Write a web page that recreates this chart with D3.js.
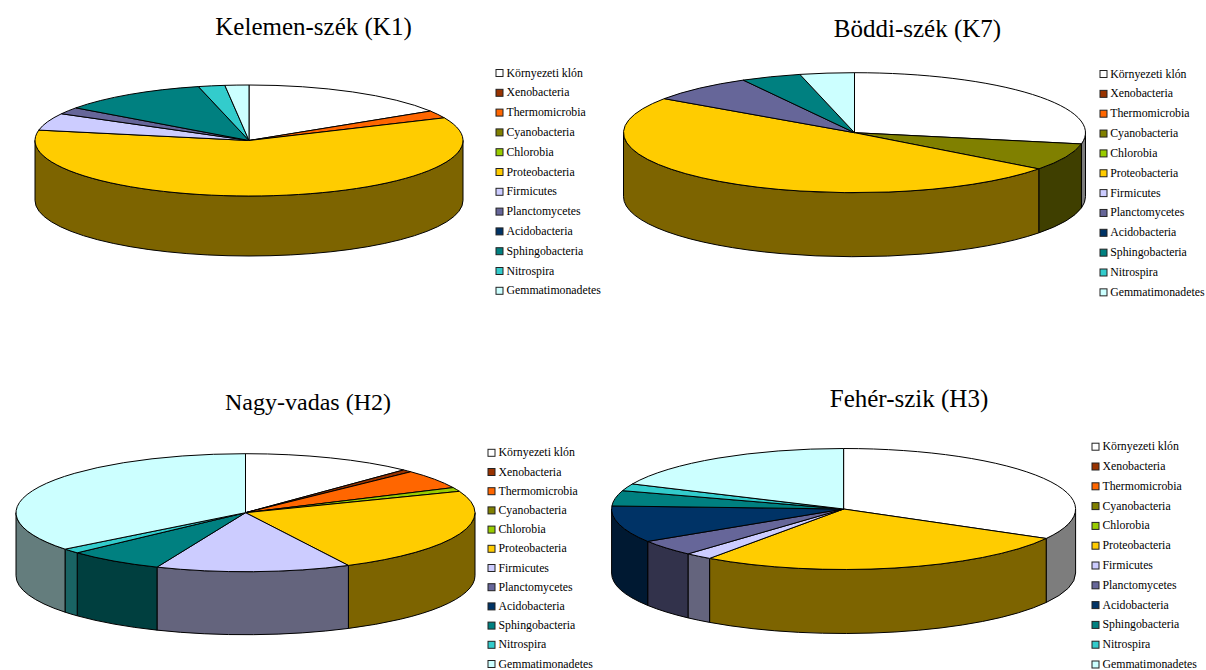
<!DOCTYPE html>
<html>
<head>
<meta charset="utf-8">
<script src="https://cdn.jsdelivr.net/npm/d3@7"></script>
<style>
html, body { margin: 0; padding: 0; background: #fff; }
svg { display: block; }
text { font-family: "Liberation Serif", serif; fill: #000; }
.slice, .wall { stroke: #000; stroke-width: 1px; stroke-linejoin: round; }
.slice { vector-effect: non-scaling-stroke; }
</style>
</head>
<body>
<svg id="chart" width="1206" height="670"></svg>
<script>
// kategoriak
var categories = ["Környezeti klón", "Xenobacteria", "Thermomicrobia", "Cyanobacteria", "Chlorobia",
    "Proteobacteria", "Firmicutes", "Planctomycetes", "Acidobacteria", "Sphingobacteria", "Nitrospira", "Gemmatimonadetes"];
var colors = ["#ffffff", "#993300", "#ff6600", "#808000", "#99cc00", "#ffcc00",
    "#ccccff", "#666699", "#003366", "#008080", "#33cccc", "#ccffff"];

// szazalekok, a kepről leolvasva
var k1Values = [16.1, 0, 2.2, 0, 0, 59.7, 5, 2, 0, 11.2, 2, 1.8];
var k7Values = [28, 0, 0, 7.3, 0, 49.3, 0, 7.4, 0, 4.2, 0, 3.8];
var h2Values = [12.1, 0.7, 5.2, 0, 1.1, 23.5, 13.7, 0, 0, 6.8, 1.3, 35.6];
var h3Values = [33.1, 0, 0, 0, 0, 26.7, 1.9, 4.3, 9.8, 4.1, 1.9, 18.2];

var titles = ["Kelemen-szék (K1)", "Böddi-szék (K7)", "Nagy-vadas (H2)", "Fehér-szik (H3)"];

// elhelyezes
var layouts = [
    { values: k1Values, title: titles[0], tx: 313.5, ty: 35, ts: 25, cx: 249, cy: 140.5, rx: 214, ry: 55.5, depth: 60, lx: 495.5, ly: 73, lp: 19.8, lt: 11 },
    { values: k7Values, title: titles[1], tx: 917.5, ty: 37, ts: 25, cx: 854.5, cy: 132.7, rx: 231, ry: 60, depth: 64, lx: 1099.5, ly: 74, lp: 19.85, lt: 10.7 },
    { values: h2Values, title: titles[2], tx: 308, ty: 410, ts: 24, cx: 245.5, cy: 512.7, rx: 229.5, ry: 59, depth: 63, lx: 487.5, ly: 452.8, lp: 19.2, lt: 11 },
    { values: h3Values, title: titles[3], tx: 909, ty: 407, ts: 25, cx: 843.6, cy: 509, rx: 232, ry: 60.5, depth: 64, lx: 1091.5, ly: 446.7, lp: 19.8, lt: 11 }
];

var svg = d3.select("#chart");
var pie = d3.pie().sort(null);
var color = d3.scaleOrdinal().domain(categories).range(colors);

function drawPie(opt) {
    var g = svg.append("g");
    g.append("text")
        .attr("x", opt.tx).attr("y", opt.ty)
        .attr("text-anchor", "middle")
        .style("font-size", opt.ts + "px")
        .text(opt.title);

    var arcs = pie(opt.values).filter(function (d) { return d.data > 0; });
    var fnX = function (a) { return opt.cx + opt.rx * Math.sin(a); };
    var fnY = function (a) { return opt.cy - opt.ry * Math.cos(a); };

    /** oldalfal: csak az elulso felkor latszik */
    arcs.forEach(function (d) {
        var a0 = Math.max(d.startAngle, Math.PI / 2);
        var a1 = Math.min(d.endAngle, Math.PI * 1.5);
        if (a1 <= a0) return;
        var large = (a1 - a0) > Math.PI ? 1 : 0;
        var path = "M" + fnX(a0) + "," + fnY(a0)
            + "A" + opt.rx + "," + opt.ry + " 0 " + large + " 1 " + fnX(a1) + "," + fnY(a1)
            + "L" + fnX(a1) + "," + (fnY(a1) + opt.depth)
            + "A" + opt.rx + "," + opt.ry + " 0 " + large + " 0 " + fnX(a0) + "," + (fnY(a0) + opt.depth)
            + "Z";
        g.append("path")
            .attr("class", "wall")
            .attr("d", path)
            .attr("fill", d3.rgb(color(categories[d.index])).darker(2).formatHex());
    });

    /** teteje */
    var fnArc = d3.arc().innerRadius(0).outerRadius(opt.rx);
    g.append("g")
        .attr("transform", "translate(" + opt.cx + "," + opt.cy + ") scale(1," + (opt.ry / opt.rx) + ")")
        .selectAll("path").data(arcs).enter().append("path")
        .attr("class", "slice")
        .attr("d", fnArc)
        .attr("fill", function (d) { return color(categories[d.index]); });

    /** jelmagyarazat */
    var legend = g.append("g").selectAll("g").data(categories).enter().append("g")
        .attr("transform", function (d, i) { return "translate(" + opt.lx + "," + (opt.ly + i * opt.lp) + ")"; });
    legend.append("rect")
        .attr("x", 0.5).attr("y", -3.5).attr("width", 7).attr("height", 7)
        .attr("fill", function (d) { return color(d); })
        .attr("stroke", "#222").attr("stroke-width", 1);
    legend.append("text")
        .attr("x", opt.lt).attr("y", 3.5)
        .style("font-size", "11.8px")
        .text(function (d) { return d; });
}

layouts.forEach(drawPie);
</script>
</body>
</html>
